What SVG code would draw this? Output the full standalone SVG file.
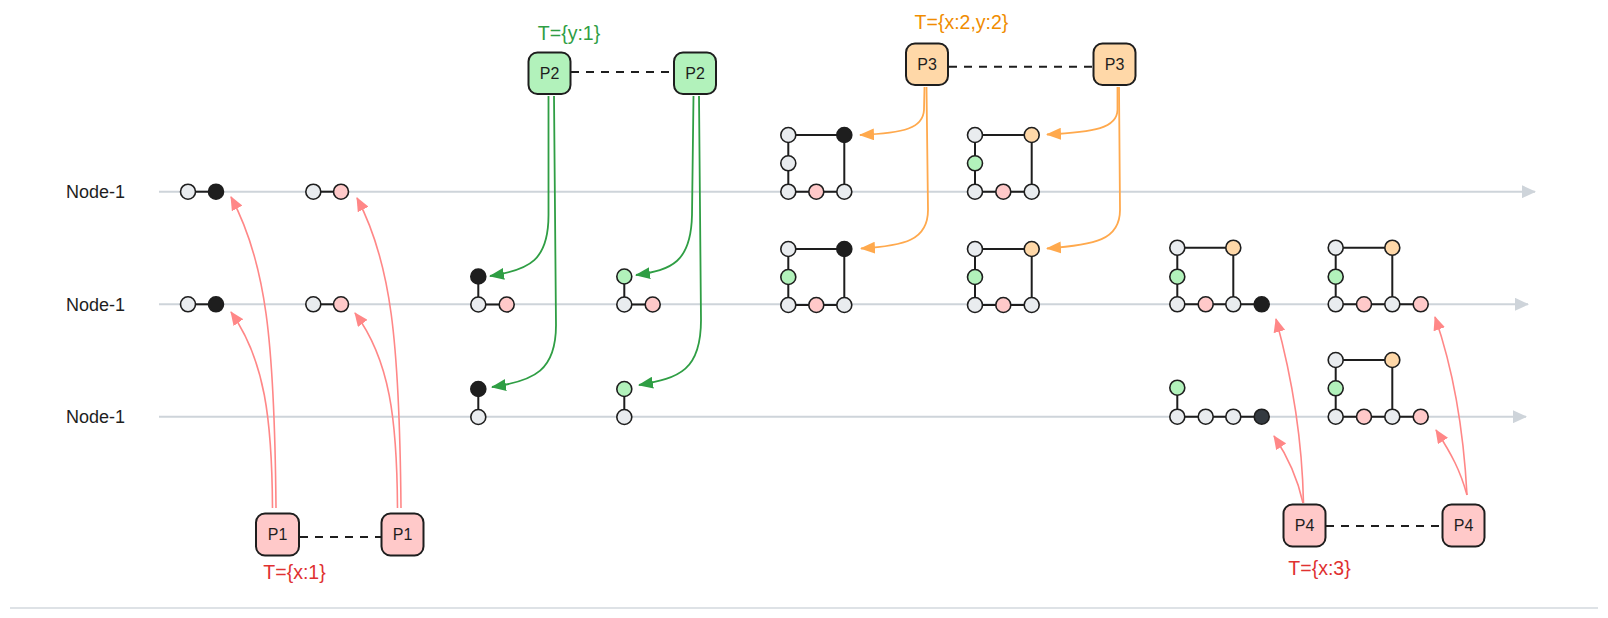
<svg xmlns="http://www.w3.org/2000/svg" width="1608" height="618" viewBox="0 0 1608 618">
<defs>
<style>
.lbl{font-family:"Liberation Sans",Arial,sans-serif;font-size:18px;fill:#1e1e1e}
.t{font-family:"Liberation Sans",Arial,sans-serif;font-size:19.5px;text-anchor:middle}
.bt{font-family:"Liberation Sans",Arial,sans-serif;font-size:16px;fill:#1e1e1e;text-anchor:middle}
.box{stroke:#1e1e1e;stroke-width:2}
.tl{stroke:#ced4da;stroke-width:2;fill:none}
.e{stroke:#1e1e1e;stroke-width:2;fill:none}
.n{stroke:#1e1e1e;stroke-width:1.6}
.g{fill:#e9ecef}.k{fill:#1e1e1e}.p{fill:#ffc9c9}.gr{fill:#b2f2bb}.o{fill:#ffd8a8}.d{fill:#343a40}
.dash{stroke:#1e1e1e;stroke-width:2;stroke-dasharray:8 7;fill:none}
.ar{stroke:#ff8787;stroke-width:1.6;fill:none;marker-end:url(#mr)}
.ag{stroke:#2f9e44;stroke-width:1.8;fill:none;marker-end:url(#mg)}
.ao{stroke:#ffa94d;stroke-width:1.8;fill:none;marker-end:url(#mo)}
</style>
<marker id="mr" viewBox="0 0 14 12" refX="13" refY="6" markerWidth="14" markerHeight="12" markerUnits="userSpaceOnUse" orient="auto"><path d="M0,0 L14,6 L0,12 z" fill="#ff8787"/></marker>
<marker id="mg" viewBox="0 0 15 12" refX="14" refY="6" markerWidth="15" markerHeight="12" markerUnits="userSpaceOnUse" orient="auto"><path d="M0,0 L15,6 L0,12 z" fill="#2f9e44"/></marker>
<marker id="mo" viewBox="0 0 15 12" refX="14" refY="6" markerWidth="15" markerHeight="12" markerUnits="userSpaceOnUse" orient="auto"><path d="M0,0 L15,6 L0,12 z" fill="#ffa94d"/></marker>
<marker id="mt" viewBox="0 0 14 13" refX="13" refY="6.5" markerWidth="14" markerHeight="13" markerUnits="userSpaceOnUse" orient="auto"><path d="M0,0 L14,6.5 L0,13 z" fill="#ced4da"/></marker>
</defs>
<rect width="1608" height="618" fill="#ffffff"/>

<g id="timelines">
<line class="tl" x1="159" y1="191.7" x2="1535" y2="191.7" marker-end="url(#mt)"/>
<line class="tl" x1="159" y1="304.3" x2="1528" y2="304.3" marker-end="url(#mt)"/>
<line class="tl" x1="159" y1="416.7" x2="1526" y2="416.7" marker-end="url(#mt)"/>
<text class="lbl" x="66" y="198">Node-1</text>
<text class="lbl" x="66" y="310.5">Node-1</text>
<text class="lbl" x="66" y="423">Node-1</text>
</g>
<line x1="10" y1="608" x2="1598" y2="608" stroke="#dee2e6" stroke-width="2"/>

<g id="connectors">
<line class="dash" x1="300" y1="537" x2="381" y2="537"/>
<line class="dash" x1="571" y1="72" x2="673" y2="72"/>
<line class="dash" x1="949" y1="66.7" x2="1093" y2="66.7"/>
<line class="dash" x1="1326" y1="526" x2="1442" y2="526"/>
<path class="ar" d="M276 508 C274.5 340 266 262 231 197"/>
<path class="ar" d="M272.5 508 C272 420 265 360 231 312"/>
<path class="ar" d="M401 508 C399.5 340 391 262 357 198"/>
<path class="ar" d="M397.5 508 C397 420 390 360 355 313"/>
<path class="ag" d="M548.5 96 L548.5 215 C548.5 260 530 270 490 276"/>
<path class="ag" d="M554 96 L556 325 C556 370 535 381 492 387"/>
<path class="ag" d="M693.5 96 L692 215 C691 262 672 270 636 275"/>
<path class="ag" d="M699 96 L701 320 C701 370 680 378 639 385"/>
<path class="ao" d="M924.5 87 L924 110 C923 128 905 133 860 135"/>
<path class="ao" d="M926.5 87 L928 210 C928 240 905 246 861 248.5"/>
<path class="ao" d="M1117.5 87 L1117.5 110 C1117 128 1095 132 1047 134.5"/>
<path class="ao" d="M1119 87 L1120 210 C1120 240 1095 245 1047 248.5"/>
<path class="ar" d="M1303.5 503 C1302 430 1290 370 1276 319"/>
<path class="ar" d="M1303 503 C1298 480 1290 460 1274 436"/>
<path class="ar" d="M1467 495 C1463 420 1450 360 1435 317"/>
<path class="ar" d="M1467 495 C1460 470 1452 455 1436 430"/>
</g>

<g id="P1a"><rect class="box" x="256" y="513.5" width="43" height="42" rx="9" fill="#ffc9c9"/><text class="bt" x="277.5" y="540">P1</text></g>
<g id="P1b"><rect class="box" x="381.5" y="513.5" width="42" height="42" rx="9" fill="#ffc9c9"/><text class="bt" x="402.5" y="540">P1</text></g>
<text id="T1" class="t" x="294.5" y="579" fill="#e03131">T={x:1}</text>
<g id="P2a"><rect class="box" x="528.5" y="52.5" width="42" height="41.5" rx="9" fill="#b2f2bb"/><text class="bt" x="549.5" y="79">P2</text></g>
<g id="P2b"><rect class="box" x="674" y="52.5" width="42" height="41.5" rx="9" fill="#b2f2bb"/><text class="bt" x="695" y="79">P2</text></g>
<text id="T2" class="t" x="569" y="40" fill="#2f9e44">T={y:1}</text>
<g id="P3a"><rect class="box" x="906" y="43.5" width="42" height="41.5" rx="9" fill="#ffd8a8"/><text class="bt" x="927" y="70">P3</text></g>
<g id="P3b"><rect class="box" x="1093.5" y="43.5" width="42" height="41.5" rx="9" fill="#ffd8a8"/><text class="bt" x="1114.5" y="70">P3</text></g>
<text id="T3" class="t" x="961.5" y="29" fill="#f08c00">T={x:2,y:2}</text>
<g id="P4a"><rect class="box" x="1283.5" y="504.5" width="42" height="42" rx="9" fill="#ffc9c9"/><text class="bt" x="1304.5" y="531">P4</text></g>
<g id="P4b"><rect class="box" x="1442.5" y="504.5" width="42" height="42" rx="9" fill="#ffc9c9"/><text class="bt" x="1463.5" y="531">P4</text></g>
<text id="T4" class="t" x="1319.5" y="575" fill="#e03131">T={x:3}</text>

<g id="gA1"><line class="e" x1="188" y1="191.7" x2="216" y2="191.7"/><circle class="n g" cx="188" cy="191.7" r="7.5"/><circle class="n k" cx="216" cy="191.7" r="7.5"/></g>
<g id="gA2"><line class="e" x1="188" y1="304.3" x2="216" y2="304.3"/><circle class="n g" cx="188" cy="304.3" r="7.5"/><circle class="n k" cx="216" cy="304.3" r="7.5"/></g>
<g id="gB1"><line class="e" x1="313.3" y1="191.7" x2="341" y2="191.7"/><circle class="n g" cx="313.3" cy="191.7" r="7.5"/><circle class="n p" cx="341" cy="191.7" r="7.5"/></g>
<g id="gB2"><line class="e" x1="313.3" y1="304.3" x2="341" y2="304.3"/><circle class="n g" cx="313.3" cy="304.3" r="7.5"/><circle class="n p" cx="341" cy="304.3" r="7.5"/></g>

<g id="gC2"><path class="e" d="M478.3 276.5 V304.5 H506.7"/><circle class="n k" cx="478.3" cy="276.5" r="7.5"/><circle class="n g" cx="478.3" cy="304.5" r="7.5"/><circle class="n p" cx="506.7" cy="304.5" r="7.5"/></g>
<g id="gC3"><path class="e" d="M478.3 389 V417"/><circle class="n k" cx="478.3" cy="389" r="7.5"/><circle class="n g" cx="478.3" cy="417" r="7.5"/></g>
<g id="gD2"><path class="e" d="M624.3 276.5 V304.5 H652.7"/><circle class="n gr" cx="624.3" cy="276.5" r="7.5"/><circle class="n g" cx="624.3" cy="304.5" r="7.5"/><circle class="n p" cx="652.7" cy="304.5" r="7.5"/></g>
<g id="gD3"><path class="e" d="M624.3 389 V417"/><circle class="n gr" cx="624.3" cy="389" r="7.5"/><circle class="n g" cx="624.3" cy="417" r="7.5"/></g>

<g id="gE1"><path class="e" d="M844.3 135 H788.3 V191.7 H844.3 Z"/>
<circle class="n g" cx="788.3" cy="135" r="7.5"/><circle class="n k" cx="844.3" cy="135" r="7.5"/><circle class="n g" cx="788.3" cy="163.3" r="7.5"/><circle class="n g" cx="788.3" cy="191.7" r="7.5"/><circle class="n p" cx="816.3" cy="191.7" r="7.5"/><circle class="n g" cx="844.3" cy="191.7" r="7.5"/></g>
<g id="gE2"><path class="e" d="M844.3 249 H788.3 V305 H844.3 Z"/>
<circle class="n g" cx="788.3" cy="249" r="7.5"/><circle class="n k" cx="844.3" cy="249" r="7.5"/><circle class="n gr" cx="788.3" cy="277" r="7.5"/><circle class="n g" cx="788.3" cy="305" r="7.5"/><circle class="n p" cx="816.3" cy="305" r="7.5"/><circle class="n g" cx="844.3" cy="305" r="7.5"/></g>
<g id="gF1"><path class="e" d="M1031.7 135 H975 V191.7 H1031.7 Z"/>
<circle class="n g" cx="975" cy="135" r="7.5"/><circle class="n o" cx="1031.7" cy="135" r="7.5"/><circle class="n gr" cx="975" cy="163.3" r="7.5"/><circle class="n g" cx="975" cy="191.7" r="7.5"/><circle class="n p" cx="1003.3" cy="191.7" r="7.5"/><circle class="n g" cx="1031.7" cy="191.7" r="7.5"/></g>
<g id="gF2"><path class="e" d="M1031.7 249 H975 V305 H1031.7 Z"/>
<circle class="n g" cx="975" cy="249" r="7.5"/><circle class="n o" cx="1031.7" cy="249" r="7.5"/><circle class="n gr" cx="975" cy="277" r="7.5"/><circle class="n g" cx="975" cy="305" r="7.5"/><circle class="n p" cx="1003.3" cy="305" r="7.5"/><circle class="n g" cx="1031.7" cy="305" r="7.5"/></g>

<g id="gG2"><path class="e" d="M1233.3 247.7 H1177.3 V304.3 H1261.7 M1233.3 247.7 V304.3"/>
<circle class="n g" cx="1177.3" cy="247.7" r="7.5"/><circle class="n o" cx="1233.3" cy="247.7" r="7.5"/><circle class="n gr" cx="1177.3" cy="276.7" r="7.5"/><circle class="n g" cx="1177.3" cy="304.3" r="7.5"/><circle class="n p" cx="1205.7" cy="304.3" r="7.5"/><circle class="n g" cx="1233.3" cy="304.3" r="7.5"/><circle class="n k" cx="1261.7" cy="304.3" r="7.5"/></g>
<g id="gG3"><path class="e" d="M1177.3 387.7 V416.7 H1261.7"/>
<circle class="n gr" cx="1177.3" cy="387.7" r="7.5"/><circle class="n g" cx="1177.3" cy="416.7" r="7.5"/><circle class="n g" cx="1205.7" cy="416.7" r="7.5"/><circle class="n g" cx="1233.3" cy="416.7" r="7.5"/><circle class="n d" cx="1261.7" cy="416.7" r="7.5"/></g>
<g id="gH2"><path class="e" d="M1392.3 247.7 H1335.7 V304.3 H1420.7 M1392.3 247.7 V304.3"/>
<circle class="n g" cx="1335.7" cy="247.7" r="7.5"/><circle class="n o" cx="1392.3" cy="247.7" r="7.5"/><circle class="n gr" cx="1335.7" cy="276.7" r="7.5"/><circle class="n g" cx="1335.7" cy="304.3" r="7.5"/><circle class="n p" cx="1364" cy="304.3" r="7.5"/><circle class="n g" cx="1392.3" cy="304.3" r="7.5"/><circle class="n p" cx="1420.7" cy="304.3" r="7.5"/></g>
<g id="gH3"><path class="e" d="M1392.3 360 H1335.7 V416.7 H1420.7 M1392.3 360 V416.7"/>
<circle class="n g" cx="1335.7" cy="360" r="7.5"/><circle class="n o" cx="1392.3" cy="360" r="7.5"/><circle class="n gr" cx="1335.7" cy="388.3" r="7.5"/><circle class="n g" cx="1335.7" cy="416.7" r="7.5"/><circle class="n p" cx="1364" cy="416.7" r="7.5"/><circle class="n g" cx="1392.3" cy="416.7" r="7.5"/><circle class="n p" cx="1420.7" cy="416.7" r="7.5"/></g>
</svg>
